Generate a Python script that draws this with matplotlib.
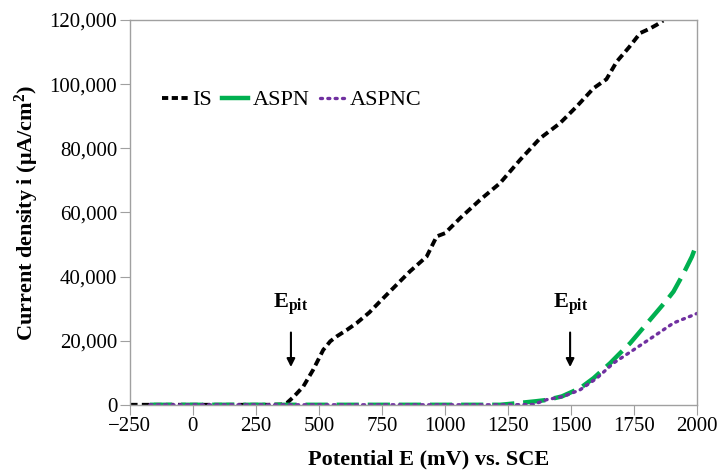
import matplotlib.pyplot as plt
import numpy as np
from matplotlib.lines import Line2D
from matplotlib.ticker import FuncFormatter

# IS curve (mV, uA/cm2)
is_E = [-250, -100, 0, 150, 300, 350, 372, 400, 438, 477, 517, 545, 570, 610, 650, 700, 742, 795,
        861, 927, 967, 1000, 1060, 1139, 1218, 1298, 1377, 1456, 1522, 1589, 1640, 1681,
        1730, 1774, 1810, 1840, 1865]
is_i = [0, 0, 0, 0, 0, 100, 500, 2500, 5700, 10900, 17100, 19800, 21300, 23300, 25500, 28800,
        32200, 36400, 41600, 46200, 52500, 53500, 58200, 63900, 69100, 76400, 83100, 87800,
        93000, 98700, 101500, 107000, 111500, 115900, 117200, 118500, 119800]

# ASPN curve
aspn_E = [-170, 0, 250, 500, 750, 1000, 1218, 1260, 1310, 1360, 1403, 1463, 1536, 1589, 1655,
          1694, 1734, 1813, 1880, 1906, 1946, 1979, 1999]
aspn_i = [0, 0, 0, 0, 0, 0, 0, 300, 700, 1100, 1500, 2600, 5200, 8300, 13000,
          16100, 19200, 26500, 32700, 35300, 41000, 46200, 50400]

# ASPNC curve
aspnc_E = [-170, 0, 250, 500, 750, 1000, 1250, 1350, 1403, 1470, 1536, 1602, 1668, 1747, 1827,
           1906, 1985, 2000]
aspnc_i = [0, 0, 0, 0, 0, 0, 0, 100, 1600, 2600, 4700, 8300, 13000, 17100, 21300,
           25500, 28000, 28500]

xticks = [-250, 0, 250, 500, 750, 1000, 1250, 1500, 1750, 2000]
yticks = [0, 20000, 40000, 60000, 80000, 100000, 120000]
epit_E = [389, 1496]

plt.rcParams['font.family'] = ['Liberation Serif', 'DejaVu Serif']
plt.rcParams['mathtext.fontset'] = 'custom'
plt.rcParams['mathtext.rm'] = 'Liberation Serif'
plt.rcParams['mathtext.it'] = 'Liberation Serif:italic'
plt.rcParams['mathtext.bf'] = 'Liberation Serif:bold'

fig, ax = plt.subplots(figsize=(7.21, 4.74), dpi=100)
fig.subplots_adjust(left=0.18, right=0.967, top=0.958, bottom=0.146)

is_style = dict(color='black', lw=2.8, ls=(0, (2.0, 1.1)))
aspn_style = dict(color='#00b050', lw=3.2, ls=(0, (5, 2)))
aspnc_style = dict(color='#7030a0', lw=2.4, ls=(0, (0.6, 1.6)), dash_capstyle='round')

ax.plot(is_E, is_i, **is_style)
ax.plot(aspn_E, aspn_i, **aspn_style)
ax.plot(aspnc_E, aspnc_i, **aspnc_style)

for e in epit_E:
    ax.annotate('', xy=(e, 10900), xytext=(e, 23400),
                arrowprops=dict(arrowstyle='-|>', color='black', lw=1.5, mutation_scale=12))
    ax.text(e, 31500, r'$\mathbf{E_{pit}}$', ha='center', va='center', fontsize=16)

ax.set_xlim(-250, 2000)
ax.set_ylim(0, 120000)
ax.set_xticks(xticks)
ax.set_yticks(yticks)
ax.xaxis.set_major_formatter(FuncFormatter(lambda v, p: f'{int(v)}'.replace('-', '\u2212')))
ax.yaxis.set_major_formatter(FuncFormatter(lambda v, p: f'{int(v):,}'))
ax.tick_params(labelsize=15, direction='out', length=7, color='#a0a0a0', pad=2)
for s in ax.spines.values():
    s.set_color('#a0a0a0')
    s.set_linewidth(1.0)

ax.set_xlabel('Potential E (mV) vs. SCE', fontsize=16, fontweight='bold')
ax.xaxis.set_label_coords(0.526, -0.116)
ax.set_ylabel('Current density i (\u03bcA/cm$^\\mathbf{2}$)', fontsize=16, fontweight='bold',
              labelpad=6)

handles = [Line2D([], [], color='black', lw=2.8, ls=(0, (1.6, 0.9))),
           Line2D([], [], color='#00b050', lw=3.2),
           Line2D([], [], color='#7030a0', lw=2.4, ls=(0, (0.6, 1.6)), dash_capstyle='round')]
ax.legend(handles, ['IS', 'ASPN', 'ASPNC'], loc='upper left', bbox_to_anchor=(0.022, 0.87),
          ncol=3, frameon=False, fontsize=16, handlelength=1.15, handletextpad=0.22,
          columnspacing=0.45)

fig.savefig('out.png', dpi=100)
